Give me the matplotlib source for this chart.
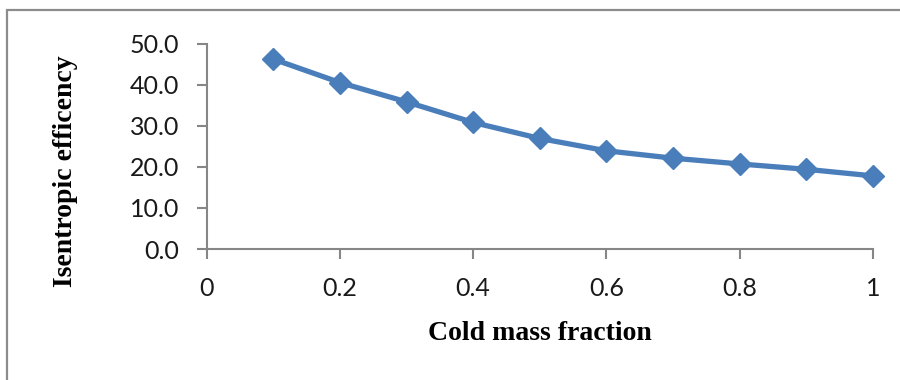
import matplotlib.pyplot as plt
from matplotlib.patches import Rectangle

cold_fraction = [0.1, 0.2, 0.3, 0.4, 0.5, 0.6, 0.7, 0.8, 0.9, 1.0]
efficiency = [46.2, 40.5, 35.8, 30.8, 26.9, 23.9, 22.1, 20.7, 19.4, 17.8]
x_ticks = [0, 0.2, 0.4, 0.6, 0.8, 1]
x_labels = ['0', '0.2', '0.4', '0.6', '0.8', '1']
y_ticks = [0, 10, 20, 30, 40, 50]

fig = plt.figure(figsize=(9, 3.8), dpi=100)
ax = fig.add_axes([0.2297, 0.3447, 0.74, 0.5408])

# chart area border (cut off at the bottom and right like the source)
fig.patches.append(Rectangle((7/900, -0.1), 1.2, 1 - 10/380 + 0.1,
                             transform=fig.transFigure, fill=False,
                             edgecolor='#8c8c8c', linewidth=1.6))

ax.plot(cold_fraction, efficiency, color='#4a7ebb', linewidth=3.8,
        marker='D', markersize=11.5, clip_on=False)

ax.set_xlim(0, 1)
ax.set_ylim(0, 50)
ax.set_xticks(x_ticks)
ax.set_xticklabels(x_labels)
ax.set_yticks(y_ticks)
ax.set_yticklabels([f'{v:.1f}' for v in y_ticks])

for s in ['top', 'right']:
    ax.spines[s].set_visible(False)
for s in ['left', 'bottom']:
    ax.spines[s].set_color('#868686')
    ax.spines[s].set_linewidth(1.5)

ax.tick_params(axis='both', direction='out', length=7, width=1.5,
               color='#868686', labelsize=18, pad=13, labelcolor='#1a1a1a')
for lab in ax.get_xticklabels() + ax.get_yticklabels():
    lab.set_family('Lato')

fig.text(540/900, 1 - 334/380, 'Cold mass fraction', ha='center', va='center',
         family='Liberation Serif', fontweight='bold', fontsize=20)
fig.text(65/900, 1 - 171/380, 'Isentropic efficency', ha='center', va='center',
         rotation=90, family='Liberation Serif', fontweight='bold', fontsize=20)

fig.savefig('out.png', dpi=100)
